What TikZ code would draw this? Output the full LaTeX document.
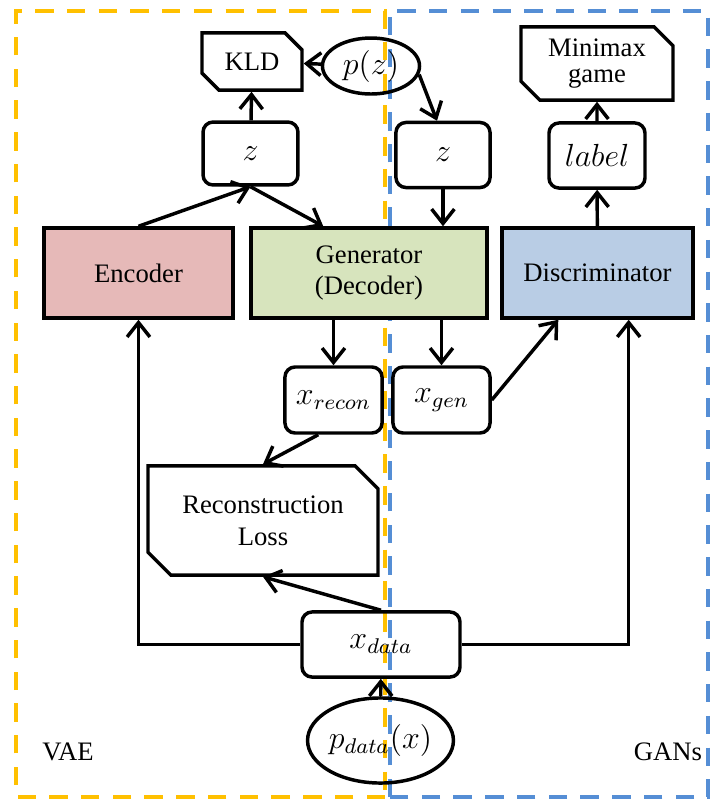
\documentclass[tikz,border=0pt]{standalone}
\usepackage{fontspec}
\setmainfont{LiberationSerif}[Extension=.ttf, UprightFont=*-Regular, BoldFont=*-Bold, ItalicFont=*-Italic]
\usetikzlibrary{arrows.meta,shapes.misc,shapes.geometric,calc}
\definecolor{vaeyellow}{HTML}{FFC000}
\definecolor{ganblue}{HTML}{558ED5}
\definecolor{encfill}{HTML}{E6B9B8}
\definecolor{genfill}{HTML}{D7E4BD}
\definecolor{discfill}{HTML}{B9CDE5}
\begin{document}
\begin{tikzpicture}[x=0.375pt, y=-0.375pt, line width=1.3pt, font=\rmfamily,
  >={Straight Barb[length=1.9mm,width=3mm]},
  var/.style={draw, rounded corners=3.75pt, inner sep=0pt, font=\fontsize{11.5}{13}\selectfont},
  block/.style={draw, inner sep=0pt, minimum height=33.75pt, align=center},
  cost/.style={draw, chamfered rectangle, chamfered rectangle corners={north east, south west},
    chamfered rectangle xsep=4pt, inner sep=0pt, align=center},
  dist/.style={draw, ellipse, inner sep=0pt, font=\fontsize{11.5}{13}\selectfont},
  region/.style={dash pattern=on 6.9pt off 5pt, line width=1.7pt}]
  \useasboundingbox (0,0) rectangle (710,799);
  % regions
  \draw[region, vaeyellow] (385,797) -- (16,797) -- (16,11) -- (385,11) -- cycle;
  \draw[region, ganblue] (390,797) -- (390,11) -- (708,11) -- (708,797) -- cycle;
  \node (vae) at (68,752) {VAE};
  \node (gans) at (668,752) {GANs};
  % top row
  \node[cost, minimum width=37.5pt, minimum height=21.4pt, chamfered rectangle xsep=3.8pt] (kld) at (252,61.5) {KLD};
  \node[dist, minimum width=36.4pt, minimum height=21pt] (pz) at (371,66) {$p(z)$};
  \node[cost, minimum width=57pt, minimum height=27.4pt] (minimax) at (597,63.5) {Minimax\\[-2pt]game};
  \node[var, minimum width=35.6pt, minimum height=23.6pt] (zl) at (250.5,153.5) {$z$};
  \node[var, minimum width=35.3pt, minimum height=24.4pt] (zr) at (443,155) {$z$};
  \node[var, minimum width=36pt, minimum height=24.4pt] (label) at (597,155.5) {$label$};
  % networks
  \node[block, fill=encfill, minimum width=70.9pt] (enc) at (138.5,273) {Encoder};
  \node[block, fill=genfill, minimum width=88.5pt] (gen) at (369,273) {Generator\\(Decoder)};
  \node[block, fill=discfill, minimum width=71.6pt] (disc) at (597.5,273) {Discriminator};
  % outputs
  \node[var, minimum width=36.4pt, minimum height=24.75pt] (xrecon) at (333.5,400) {$x_{recon}$};
  \node[var, minimum width=36.4pt, minimum height=24.75pt] (xgen) at (441.5,400) {$x_{gen}$};
  \node[cost, minimum width=86.25pt, minimum height=40.9pt, chamfered rectangle xsep=5.5pt] (recon) at (263,520.5) {Reconstruction\\Loss};
  \node[var, minimum width=59.25pt, minimum height=24.4pt] (xdata) at (381,644.5) {$x_{data}$};
  \node[dist, minimum width=53.6pt, minimum height=31.9pt] (pdata) at (380.5,740.5) {$p_{data}(x)$};
  % connections
  \draw[->] (pz) to (kld);
  \draw[->] (zl) to (kld);
  \draw[->] (enc.north) to (zl.south);
  \draw[->] (zl.south) to ($(gen.north west)+(74,0)$);
  \draw[->] (pz.-10) to ($(zr.north)+(-6,0)$);
  \draw[->] (zr.south) to (zr.south |- gen.north);
  \draw[->] (xrecon.north |- gen.south) to (xrecon.north);
  \draw[->] (xgen.north |- gen.south) to (xgen.north);
  \draw[->] (xgen.east) to ($(disc.south west)+(58,0)$);
  \draw[->] (disc) to (label);
  \draw[->] (label) to (minimax);
  \draw[->] ($(xrecon.south west)+(35,0)$) to (recon.north);
  \draw[->] (xdata.north) to (recon.south);
  \draw[->] (xdata.west) -| (enc.south);
  \draw[->] (xdata.east) -| ($(disc.south east)+(-66,0)$);
  \draw[->] (pdata) to (xdata);
\end{tikzpicture}
\end{document}
